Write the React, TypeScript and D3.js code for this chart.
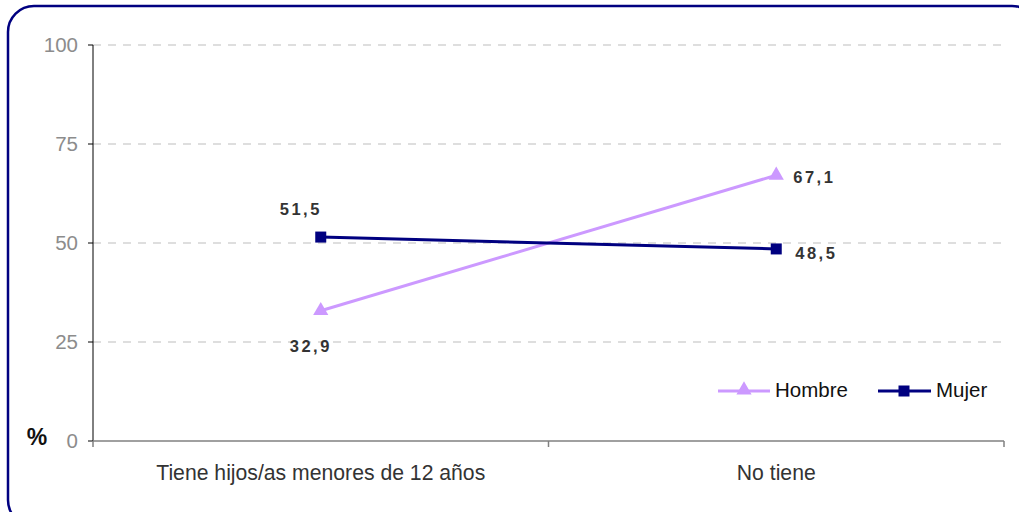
import React from "react";
import * as d3 from "d3";

const categories = ["Tiene hijos/as menores de 12 años", "No tiene"];
const hombre = [32.9, 67.1];
const mujer = [51.5, 48.5];
const yTicks = [0, 25, 50, 75, 100];
const seriesNames = ["Hombre", "Mujer"];

const W = 1019;
const H = 512;
const left = 93;
const right = 1004;
const top = 45;
const bottom = 441;

export default function App() {
  const x = d3.scaleBand<string>().domain(categories).range([left, right]).padding(0);
  const y = d3.scaleLinear().domain([0, 100]).range([bottom, top]);
  const cx = (c: string) => (x(c) as number) + x.bandwidth() / 2;
  const line = d3
    .line<number>()
    .x((_, i) => cx(categories[i]))
    .y((d) => y(d));
  const tri = d3.symbol(d3.symbolTriangle, 100)() as string;
  const font = "'Liberation Sans', Arial, sans-serif";
  const fmt = (v: number) => v.toFixed(1).replace(".", ",");

  return (
    <svg
      width={W}
      height={H}
      style={{ position: "absolute", left: 0, top: 0, display: "block" }}
      fontFamily={font}
    >
      <rect x={0} y={0} width={W} height={H} fill="#fff" />
      <rect x={8} y={6} width={1030} height={520} rx={26} ry={26} fill="none" stroke="#000080" strokeWidth={2.5} />
      {yTicks.slice(1).map((t) => (
        <line key={t} x1={left} x2={right} y1={y(t)} y2={y(t)} stroke="#d4d4d4" strokeWidth={1.3} strokeDasharray="8,7" />
      ))}
      <line x1={left} x2={left} y1={top} y2={bottom} stroke="#000" strokeWidth={1} />
      {yTicks.map((t) => (
        <g key={t}>
          <line x1={88} x2={left} y1={y(t)} y2={y(t)} stroke="#000" />
          <text x={78} y={y(t) + 7} textAnchor="end" fontSize={20.5} fill="#8c8c8c">
            {t}
          </text>
        </g>
      ))}
      <line x1={left} x2={right} y1={bottom} y2={bottom} stroke="#808080" strokeWidth={1.5} />
      {[left, left + x.bandwidth(), right].map((t, i) => (
        <line key={i} x1={t} x2={t} y1={bottom} y2={bottom + 6} stroke="#808080" strokeWidth={1.5} />
      ))}
      {categories.map((c) => (
        <text key={c} x={cx(c)} y={480} textAnchor="middle" fontSize={21.2} fill="#333">
          {c}
        </text>
      ))}
      <text x={37} y={445} textAnchor="middle" fontSize={23} fontWeight="bold" fill="#111">%</text>

      <path d={line(hombre) as string} fill="none" stroke="#CC99FF" strokeWidth={3} />
      {hombre.map((v, i) => (
        <path key={i} d={tri} transform={`translate(${cx(categories[i])},${y(v)})`} fill="#CC99FF" />
      ))}
      <path d={line(mujer) as string} fill="none" stroke="#000080" strokeWidth={3} />
      {mujer.map((v, i) => (
        <rect key={i} x={cx(categories[i]) - 5.5} y={y(v) - 5.5} width={11} height={11} fill="#000080" />
      ))}

      <g fontSize={16.5} fontWeight="bold" fill="#333" letterSpacing={2.5}>
        <text x={cx(categories[0]) - 41} y={y(mujer[0]) - 22}>{fmt(mujer[0])}</text>
        <text x={cx(categories[0]) - 31} y={y(hombre[0]) + 41}>{fmt(hombre[0])}</text>
        <text x={cx(categories[1]) + 17} y={y(hombre[1]) + 8}>{fmt(hombre[1])}</text>
        <text x={cx(categories[1]) + 19} y={y(mujer[1]) + 10}>{fmt(mujer[1])}</text>
      </g>

      <g fontSize={20.5} fill="#111">
        <line x1={718} x2={770} y1={391} y2={391} stroke="#CC99FF" strokeWidth={3} />
        <path d={tri} transform="translate(744,390)" fill="#CC99FF" />
        <text x={775} y={397}>{seriesNames[0]}</text>
        <line x1={878} x2={931} y1={391} y2={391} stroke="#000080" strokeWidth={3} />
        <rect x={898.5} y={385.5} width={11} height={11} fill="#000080" />
        <text x={936} y={397}>{seriesNames[1]}</text>
      </g>
    </svg>
  );
}
